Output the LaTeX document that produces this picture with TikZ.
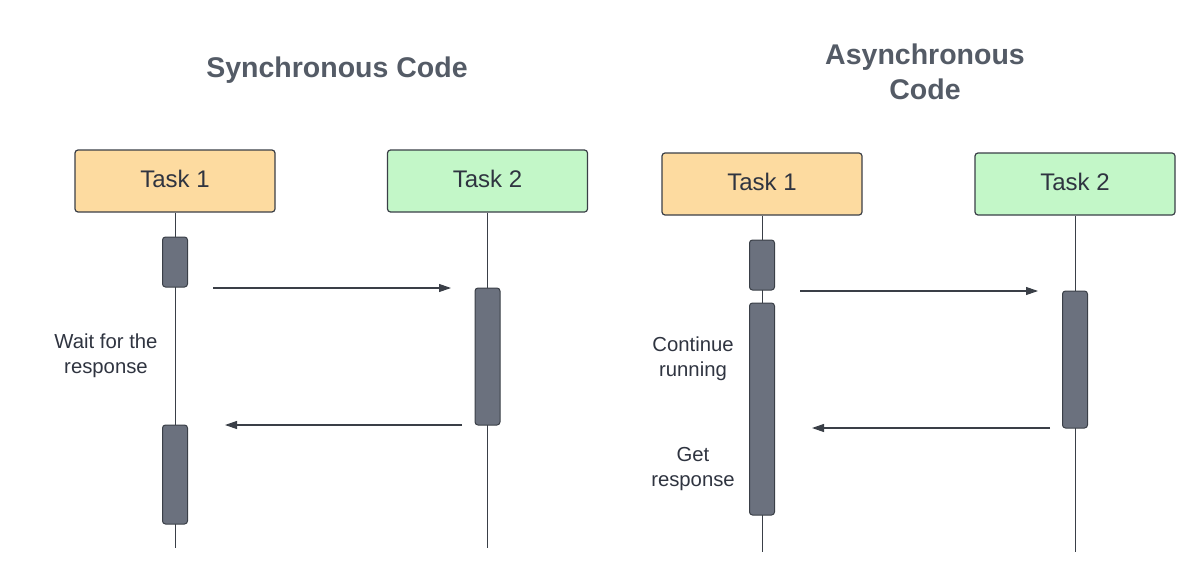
\documentclass[tikz,border=0pt]{standalone}
\usepackage{fontspec}
\setmainfont{Liberation Sans}
\usetikzlibrary{arrows.meta}
\definecolor{titlegray}{HTML}{545B66}
\definecolor{textdark}{HTML}{2F3440}
\definecolor{edge}{HTML}{3A3F47}
\definecolor{orangefill}{HTML}{FDDBA0}
\definecolor{greenfill}{HTML}{C3F7C8}
\definecolor{actfill}{HTML}{6B717E}
\newcommand{\tasktext}[1]{\raisebox{4.5pt}{#1}}
\tikzset{
  title/.style={font=\bfseries\fontsize{28.5}{35}\selectfont, text=titlegray, align=center},
  task/.style={draw=edge, line width=1.2pt, rounded corners=3pt, minimum width=200pt, minimum height=62pt, inner sep=0pt, font=\fontsize{24}{28}\selectfont, text=textdark},
  act/.style={draw=edge, line width=1pt, fill=actfill, rounded corners=3pt, minimum width=25pt, inner sep=0pt},
  life/.style={draw=edge, line width=1pt},
  msg/.style={draw=edge, line width=1.1pt, -{Triangle[length=12pt, width=8pt]}},
  lbl/.style={font=\fontsize{20.3}{25}\selectfont, text=textdark, align=center},
}
\begin{document}
\begin{tikzpicture}[x=1pt, y=-1pt]
\useasboundingbox (0,0) rectangle (1200,578);
% Synchronous
\node[title] (t1) at (337,70.5) {Synchronous Code};
\node[task, fill=orangefill] (s1) at (175,181) {\tasktext{Task 1}};
\node[task, fill=greenfill] (s2) at (487.5,181) {\tasktext{Task 2}};
\coordinate (s1end) at (175,548);
\coordinate (s2end) at (487.5,548);
\draw[life] (s1.south) -- (s1end);
\draw[life] (s2.south) -- (s2end);
\node[act, minimum height=50pt] (sa1) at (175,262) {};
\node[act, minimum height=99pt] (sa2) at (175,474.5) {};
\node[act, minimum height=137pt] (sb1) at (487.5,356.5) {};
\coordinate (sm1a) at (213,288);
\coordinate (sm1b) at (451,288);
\coordinate (sm2a) at (462,425);
\coordinate (sm2b) at (225,425);
\draw[msg] (sm1a) -- (sm1b);
\draw[msg] (sm2a) -- (sm2b);
\node[lbl] (w) at (106,356) {Wait for the\\response};
% Asynchronous
\node[title] (t2) at (925,72) {Asynchronous\\Code};
\node[task, fill=orangefill] (a1) at (762,184) {\tasktext{Task 1}};
\node[task, fill=greenfill] (a2) at (1075,184) {\tasktext{Task 2}};
\coordinate (a1end) at (762,552);
\coordinate (a2end) at (1075,552);
\draw[life] (a1.south) -- (a1end);
\draw[life] (a2.south) -- (a2end);
\node[act, minimum height=50pt] (aa1) at (762,265) {};
\node[act, minimum height=212pt] (aa2) at (762,409) {};
\node[act, minimum height=137pt] (ab1) at (1075,359.5) {};
\coordinate (am1a) at (800,291);
\coordinate (am1b) at (1038,291);
\coordinate (am2a) at (1050,428);
\coordinate (am2b) at (812,428);
\draw[msg] (am1a) -- (am1b);
\draw[msg] (am2a) -- (am2b);
\node[lbl] (c) at (693,359) {Continue\\running};
\node[lbl] (g) at (693,469) {Get\\response};
\end{tikzpicture}
\end{document}
